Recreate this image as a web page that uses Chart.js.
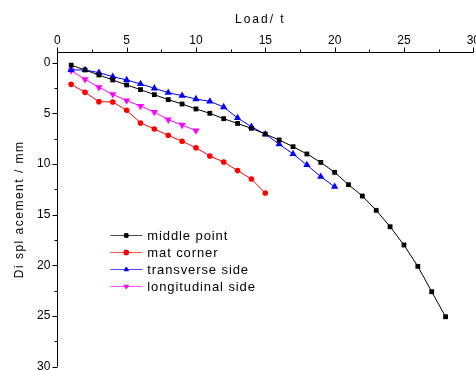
<!DOCTYPE html>
<html>
<head>
<meta charset="utf-8">
<script src="https://cdn.jsdelivr.net/npm/chart.js@4"></script>
<style>
  html, body { margin: 0; padding: 0; background: #fff; }
  canvas { display: block; }
</style>
</head>
<body>
<canvas id="chart" width="476" height="370"></canvas>
<script>
// Daten
const loadMiddle = [1,2,3,4,5,6,7,8,9,10,11,12,13,14,15,16,17,18,19,20,21,22,23,24,25,26,27,28];
const dispMiddle = [0.25,0.72,1.22,1.71,2.2,2.66,3.16,3.65,4.08,4.57,5.0,5.53,6.0,6.48,7.05,7.63,8.29,9.01,9.84,10.82,12.04,13.16,14.57,16.19,17.99,20.1,22.6,25.07];

const loadCorner = [1,2,3,4,5,6,7,8,9,10,11,12,13,14,15];
const dispCorner = [2.14,2.93,3.85,3.88,4.7,5.95,6.55,7.17,7.76,8.39,9.21,9.8,10.65,11.48,12.86];

const loadTrans = [1,2,3,4,5,6,7,8,9,10,11,12,13,14,15,16,17,18,19,20];
const dispTrans = [0.72,0.72,0.99,1.38,1.71,2.1,2.53,2.96,3.26,3.59,3.82,4.38,5.46,6.32,7.06,8.04,9.01,10.1,11.25,12.24];

const loadLong = [1,2,3,4,5,6,7,8,9,10];
const dispLong = [0.79,1.64,2.43,3.13,3.75,4.28,4.87,5.63,6.15,6.71];

const seriesNames = ['middle point','mat corner','transverse side','longitudinal side'];

const xTickValues = [0,2.5,5,7.5,10,12.5,15,17.5,20,22.5,25,27.5,30];
const yTickValues = [0,2.5,5,7.5,10,12.5,15,17.5,20,22.5,25,27.5,30];

const xTitle = 'Load/ t';
const yTitle = 'Di spl acement / mm';

const pts = (xs, ys) => xs.map((x, i) => ({ x: x, y: ys[i] }));
const isMajor = v => v % 5 === 0;
const FONT = '"Liberation Sans", Arial, sans-serif';

// Achsen, Ticks, Titel und Legende selbst zeichnen
const decorPlugin = {
  id: 'decor',
  afterDraw(chart) {
    const ctx = chart.ctx;
    const a = chart.chartArea;
    const xs = chart.scales.x, ys = chart.scales.y;
    ctx.save();
    ctx.strokeStyle = '#000';
    ctx.lineWidth = 1;
    ctx.beginPath();
    ctx.moveTo(a.left, Math.round(a.top) + 0.5);
    ctx.lineTo(a.right, Math.round(a.top) + 0.5);
    ctx.moveTo(Math.round(a.left) + 0.5, a.top);
    ctx.lineTo(Math.round(a.left) + 0.5, a.bottom);
    xTickValues.forEach(v => {
      const px = Math.round(xs.getPixelForValue(v)) + 0.5;
      const len = isMajor(v) ? 5 : 3;
      ctx.moveTo(px, Math.round(a.top) + 0.5);
      ctx.lineTo(px, Math.round(a.top) + 0.5 - len);
    });
    yTickValues.forEach(v => {
      const py = Math.round(ys.getPixelForValue(v)) + 0.5;
      const len = isMajor(v) ? 5 : 3;
      ctx.moveTo(Math.round(a.left) + 0.5, py);
      ctx.lineTo(Math.round(a.left) + 0.5 - len, py);
    });
    ctx.stroke();

    // Achsentitel
    ctx.fillStyle = '#000';
    ctx.font = '12px ' + FONT;
    ctx.textBaseline = 'middle';
    ctx.textAlign = 'center';
    ctx.letterSpacing = '2px';
    ctx.fillText(xTitle, (a.left + a.right) / 2 - 5, 20);
    ctx.letterSpacing = '1.5px';
    ctx.save();
    ctx.translate(20, (a.top + a.bottom) / 2);
    ctx.rotate(-Math.PI / 2);
    ctx.fillText(yTitle, 0, 0);
    ctx.restore();

    // Legende
    ctx.letterSpacing = '0.9px';
    ctx.font = '13px ' + FONT;
    ctx.textAlign = 'left';
    const lx = a.left + 53, ly = a.top + 183;
    chart.data.datasets.forEach((ds, i) => {
      const y = ly + i * 17;
      ctx.strokeStyle = ds.borderColor;
      ctx.lineWidth = 1;
      ctx.globalAlpha = 0.7;
      ctx.beginPath();
      ctx.moveTo(lx, y + 0.5);
      ctx.lineTo(lx + 32, y + 0.5);
      ctx.stroke();
      ctx.globalAlpha = 1;
      Chart.helpers.drawPoint(ctx, {
        pointStyle: ds.pointStyle, radius: 2.5, rotation: ds.pointRotation || 0, borderWidth: 1
      }, lx + 16, y + 0.5);
      ctx.fillStyle = ds.borderColor;
      ctx.strokeStyle = ds.borderColor;
      ctx.fill();
      ctx.fillStyle = '#000';
      ctx.fillText(ds.label, lx + 37, y + 1);
    });
    ctx.restore();
  }
};

function makeSet(label, data, color, style, radius, rot) {
  return {
    label: label,
    data: data,
    borderColor: color,
    backgroundColor: color,
    pointBackgroundColor: color,
    pointBorderColor: color,
    pointStyle: style,
    pointRadius: radius,
    pointRotation: rot || 0,
    pointBorderWidth: 0,
    borderWidth: 1,
    tension: 0,
    clip: false
  };
}

new Chart(document.getElementById('chart'), {
  type: 'line',
  data: {
    datasets: [
      makeSet(seriesNames[0], pts(loadMiddle, dispMiddle), '#000000', 'rect', 3.4),
      makeSet(seriesNames[1], pts(loadCorner, dispCorner), '#ff0000', 'circle', 2.8),
      makeSet(seriesNames[2], pts(loadTrans, dispTrans), '#0000ff', 'triangle', 4.2),
      makeSet(seriesNames[3], pts(loadLong, dispLong), '#ff00ff', 'triangle', 4.2, 180)
    ]
  },
  options: {
    responsive: false,
    animation: false,
    layout: { autoPadding: false, padding: { top: 0, left: 0, right: 2.7, bottom: 3.3 } },
    plugins: { legend: { display: false }, tooltip: { enabled: false } },
    scales: {
      x: {
        type: 'linear',
        position: 'top',
        min: 0, max: 30,
        afterBuildTicks: s => { s.ticks = xTickValues.map(v => ({ value: v })); },
        afterFit: s => { s.height = 52; s.paddingLeft = 0; s.paddingRight = 0; },
        grid: { display: false, drawTicks: false },
        border: { display: false },
        ticks: {
          autoSkip: false, maxRotation: 0, padding: 4, color: '#000',
          font: { size: 12, family: FONT },
          callback: v => isMajor(v) ? String(v) : ''
        }
      },
      y: {
        type: 'linear',
        reverse: true,
        min: -1.05, max: 30,
        afterBuildTicks: s => { s.ticks = yTickValues.map(v => ({ value: v })); },
        afterFit: s => { s.width = 57.3; s.paddingTop = 0; s.paddingBottom = 0; },
        grid: { display: false, drawTicks: false },
        border: { display: false },
        ticks: {
          autoSkip: false, padding: 7, color: '#000',
          font: { size: 12, family: FONT },
          callback: v => isMajor(v) ? String(v) : ''
        }
      }
    }
  },
  plugins: [decorPlugin]
});
</script>
</body>
</html>
